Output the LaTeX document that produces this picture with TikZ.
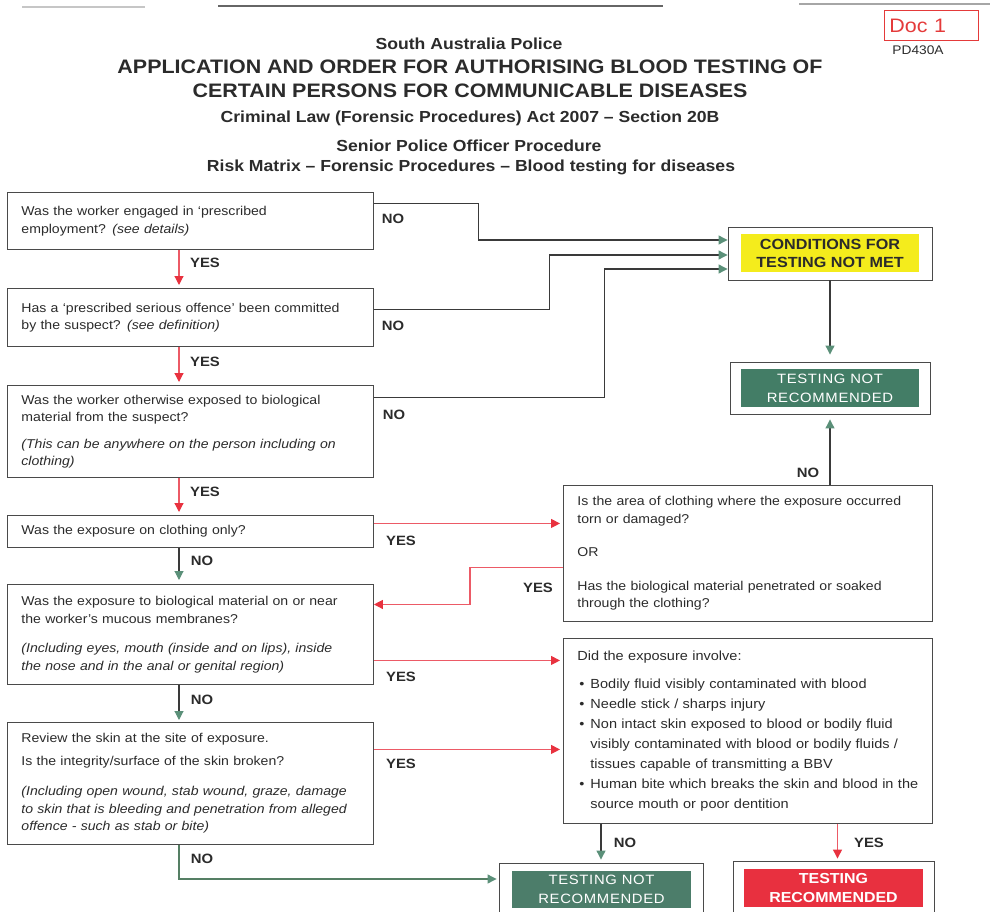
\documentclass[tikz,border=0pt]{standalone}
\usepackage{fontspec}
\setmainfont{Liberation Sans}[FakeStretch=1.1]
\usetikzlibrary{arrows.meta,positioning}

\definecolor{boxgray}{HTML}{4A4A4A}
\definecolor{linegray}{HTML}{3A3A3A}
\definecolor{textgray}{HTML}{2B2B2B}
\definecolor{tipgreen}{HTML}{5B9079}
\definecolor{nogreen}{HTML}{557F64}
\definecolor{redline}{HTML}{EC5A66}
\definecolor{redtip}{HTML}{E8323F}
\definecolor{yellowfill}{HTML}{F4EC1C}
\definecolor{greenfill}{HTML}{437D66}
\definecolor{redfill}{HTML}{E8303F}
\definecolor{docred}{HTML}{E43A3A}

\newcommand{\expbullet}{\makebox[13pt][l]{\hspace{2pt}\textbullet}}
\newcommand{\expindent}{\hspace*{13pt}}

\tikzset{
  qbox/.style={draw=boxgray, line width=0.9pt, anchor=north west, align=left,
    inner xsep=14pt, inner ysep=0pt, text=textgray,
    font=\fontsize{12.8}{17.5}\selectfont},
  outerbox/.style={draw=boxgray, line width=0.9pt, inner sep=0pt},
  notbox/.style={fill=greenfill, text=white, align=center, inner sep=0pt,
    font=\fontsize{13.5}{19}\selectfont\addfontfeatures{LetterSpace=5}},
  lbl/.style={inner sep=0pt, text=textgray, font=\fontsize{13.5}{16}\selectfont\bfseries},
  head/.style={inner sep=0pt, text=textgray, font=\fontsize{16}{18}\selectfont\bfseries},
  yesline/.style={draw=redline, line width=1.2pt, -{Triangle[length=9pt,width=9pt,color=redtip]}},
  noline/.style={draw=linegray, line width=1.1pt, -{Triangle[length=9pt,width=9pt,color=tipgreen]}},
  greenline/.style={draw=nogreen, line width=1.1pt, -{Triangle[length=9pt,width=9pt,color=tipgreen]}}
}

\begin{document}
\begin{tikzpicture}[x=1pt,y=-1pt]
\useasboundingbox (0,0) rectangle (990,912);

% scan edges at the top
\draw[gray!45, line width=1.2pt] (22,7) -- (145,7);
\draw[gray!80!black, line width=1.5pt] (218,6) -- (663,6);
\draw[gray!70, line width=1.2pt] (799,4) -- (990,4);

% heading
\node[draw=docred, line width=0.8pt, text=docred, anchor=north west, align=left,
  text width=84pt, minimum height=30pt, inner xsep=5pt, inner ysep=0pt,
  font=\fontsize{19.5}{20}\selectfont] (doc) at (884,10) {Doc 1};
\node[inner sep=0pt, text=textgray, font=\fontsize{12.5}{14}\selectfont] (pdno) at (918,50) {PD430A};
\node[head] (police) at (469,44) {South Australia Police};
\node[head, font=\fontsize{19.5}{22}\selectfont\bfseries] (title1) at (470,67) {APPLICATION AND ORDER FOR AUTHORISING BLOOD TESTING OF};
\node[head, font=\fontsize{19.5}{22}\selectfont\bfseries] (title2) at (470,91) {CERTAIN PERSONS FOR COMMUNICABLE DISEASES};
\node[head] (act) at (470,118) {Criminal Law (Forensic Procedures) Act 2007 -- Section 20B};
\node[head] (proc) at (469,146) {Senior Police Officer Procedure};
\node[head] (matrix) at (471,167) {Risk Matrix -- Forensic Procedures -- Blood testing for diseases};

% questions on the left
\node[qbox, text width=338pt, minimum height=57pt] (q1) at (7,192)
  {Was the worker engaged in ‘prescribed\\ employment? \textit{(see details)}};
\node[qbox, text width=338pt, minimum height=58pt] (q2) at (7,288)
  {Has a ‘prescribed serious offence’ been committed\\ by the suspect? \textit{(see definition)}};
\node[qbox, text width=338pt, minimum height=92pt] (q3) at (7,385)
  {Was the worker otherwise exposed to biological\\ material from the suspect?\\[9pt]
   \textit{(This can be anywhere on the person including on}\\ \textit{clothing)}};
\node[qbox, text width=338pt, minimum height=32pt] (q4) at (7,515)
  {Was the exposure on clothing only?};
\node[qbox, text width=338pt, minimum height=100pt] (q5) at (7,584)
  {Was the exposure to biological material on or near\\ the worker's mucous membranes?\\[12pt]
   \textit{(Including eyes, mouth (inside and on lips), inside}\\ \textit{the nose and in the anal or genital region)}};
\node[qbox, text width=338pt, minimum height=122pt] (q6) at (7,722)
  {Review the skin at the site of exposure.\\[5pt]
   Is the integrity/surface of the skin broken?\\[13pt]
   \textit{(Including open wound, stab wound, graze, damage}\\
   \textit{to skin that is bleeding and penetration from alleged}\\
   \textit{offence - such as stab or bite)}};

% questions on the right
\node[qbox, text width=341pt, minimum height=136pt] (cloth) at (563,485)
  {Is the area of clothing where the exposure occurred\\ torn or damaged?\\[16pt]
   OR\\[16pt]
   Has the biological material penetrated or soaked\\ through the clothing?};
\node[qbox, text width=341pt, minimum height=185pt, font=\fontsize{13.2}{20}\selectfont] (expo) at (563,638)
  {Did the exposure involve:\\[8pt]
   \expbullet Bodily fluid visibly contaminated with blood\\
   \expbullet Needle stick / sharps injury\\
   \expbullet Non intact skin exposed to blood or bodily fluid\\
   \expindent visibly contaminated with blood or bodily fluids /\\
   \expindent tissues capable of transmitting a BBV\\
   \expbullet Human bite which breaks the skin and blood in the\\
   \expindent source mouth or poor dentition};

% outcomes
\node[outerbox, minimum width=204pt, minimum height=53pt] (condframe) at (830,253.5) {};
\node[fill=yellowfill, text=textgray, align=center, inner sep=0pt, minimum width=178pt,
  minimum height=38pt, font=\fontsize{14.7}{18}\selectfont\bfseries] (cond) at (830,253)
  {CONDITIONS FOR\\TESTING NOT MET};
\node[outerbox, minimum width=200pt, minimum height=52pt] (tnr1frame) at (830,388) {};
\node[notbox, minimum width=178pt, minimum height=38pt] (tnr1) at (830,388)
  {TESTING NOT\\RECOMMENDED};
\node[outerbox, minimum width=204pt, minimum height=53pt] (tnr2frame) at (601,889.5) {};
\node[notbox, fill=greenfill!85!gray, minimum width=179pt, minimum height=37pt] (tnr2) at (601.5,889.5)
  {TESTING NOT\\RECOMMENDED};
\node[outerbox, minimum width=201pt, minimum height=54pt] (trframe) at (833.5,888) {};
\node[fill=redfill, text=white, align=center, inner sep=0pt, minimum width=179pt,
  minimum height=38pt, font=\fontsize{14.5}{19}\selectfont\bfseries] (tr) at (833.5,888)
  {TESTING\\RECOMMENDED};

\coordinate (spine) at (179,0);
\coordinate (trin) at ([xshift=4pt]trframe.north);

% connectors
\draw[noline] ([yshift=17.5pt]q1.east) -- ++(105,0) |- ([yshift=13.5pt]condframe.west);
\draw[noline] ([yshift=8pt]q2.east) -- ++(176,0) |- ([yshift=-1.5pt]condframe.west);
\draw[noline] ([yshift=34pt]q3.east) -- ++(231,0) |- ([yshift=-15.5pt]condframe.west);
\draw[noline, shorten >=7pt] (condframe.south) -- (tnr1frame.north);
\draw[noline, shorten >=5pt] (tnr1frame.south |- cloth.north) -- (tnr1frame.south);

\draw[yesline, shorten >=3pt] (q1.south -| spine) -- (q2.north -| spine);
\draw[yesline, shorten >=3pt] (q2.south -| spine) -- (q3.north -| spine);
\draw[yesline, shorten >=3pt] (q3.south -| spine) -- (q4.north -| spine);
\draw[noline, shorten >=4pt] (q4.south -| spine) -- (q5.north -| spine);
\draw[noline, shorten >=2pt] (q5.south -| spine) -- (q6.north -| spine);
\draw[greenline, shorten >=2pt] (q6.south -| spine) |- ([yshift=10.5pt]tnr2frame.west);

\draw[yesline, shorten >=3pt] ([yshift=8pt]q4.east) -- ([yshift=8pt]q4.east -| cloth.west);
\draw[yesline] ([yshift=-14pt]cloth.west) -- ++(-93,0) |- ([yshift=30pt]q5.east);
\draw[yesline, shorten >=3pt] ([yshift=-26pt]q5.east) -- ([yshift=-26pt]q5.east -| expo.west);
\draw[yesline, shorten >=3pt] ([yshift=34pt]q6.east) -- ([yshift=34pt]q6.east -| expo.west);
\draw[noline, shorten >=3pt] (tnr2frame.north |- expo.south) -- (tnr2frame.north);
\draw[yesline, shorten >=2pt] (trin |- expo.south) -- (trin);

% connector labels
\node[lbl] (no1) at (393,219) {NO};
\node[lbl] (no2) at (393,326) {NO};
\node[lbl] (no3) at (394,415) {NO};
\node[lbl] (yes1) at (205,263) {YES};
\node[lbl] (yes2) at (205,362) {YES};
\node[lbl] (yes3) at (205,492) {YES};
\node[lbl] (yes4) at (401,541) {YES};
\node[lbl] (no4) at (202,561) {NO};
\node[lbl] (yes5) at (538,588) {YES};
\node[lbl] (no5) at (808,473) {NO};
\node[lbl] (yes6) at (401,677) {YES};
\node[lbl] (no6) at (202,700) {NO};
\node[lbl] (yes7) at (401,764) {YES};
\node[lbl] (no7) at (202,859) {NO};
\node[lbl] (no8) at (625,843) {NO};
\node[lbl] (yes8) at (869,843) {YES};
\end{tikzpicture}
\end{document}
